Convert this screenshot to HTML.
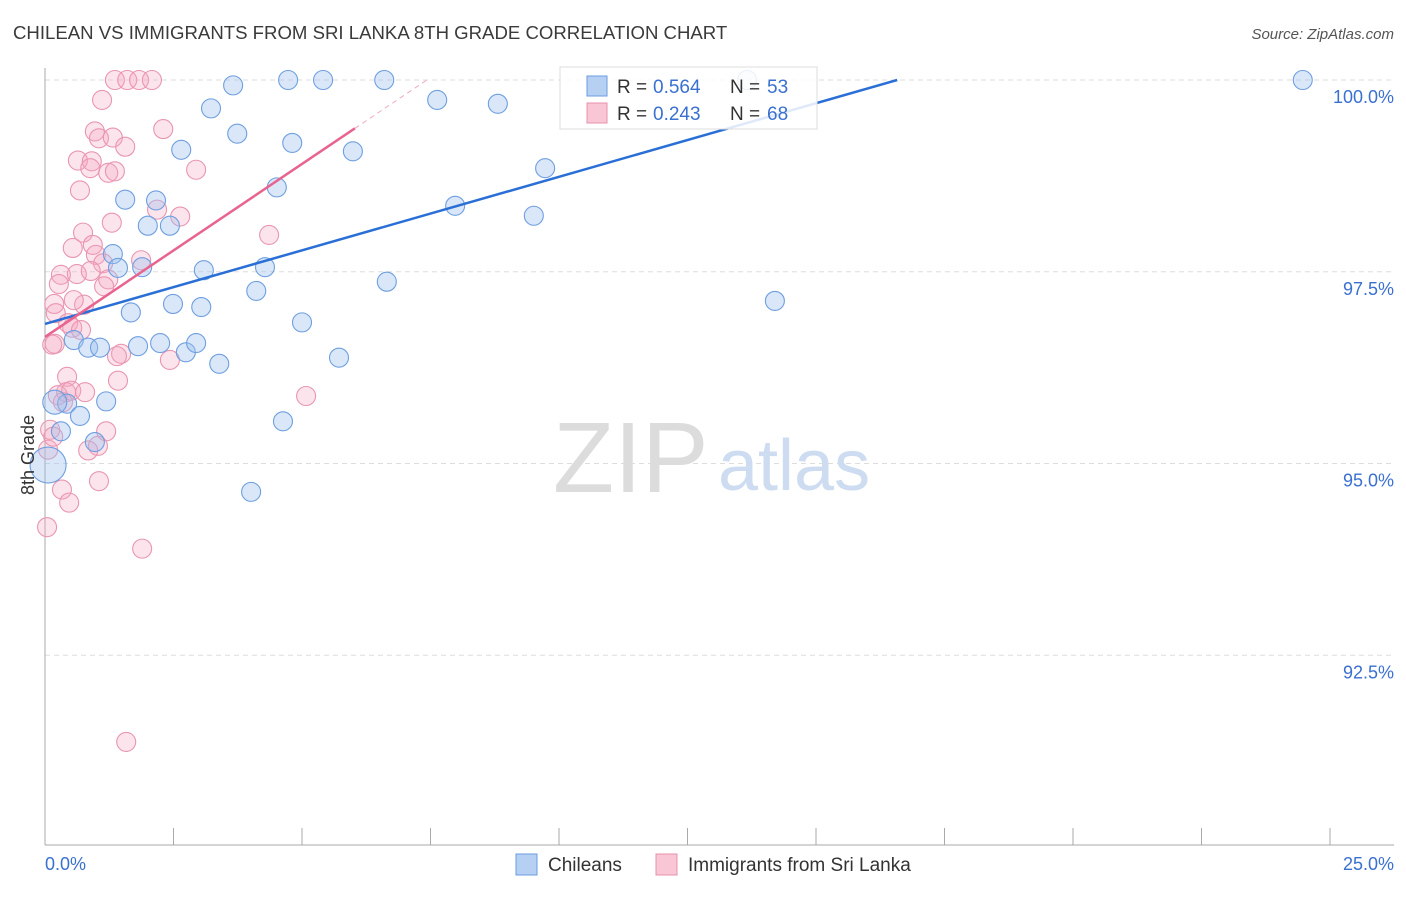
<!DOCTYPE html>
<html><head><meta charset="utf-8"><style>
body{margin:0;background:#fff;font-family:"Liberation Sans",sans-serif}
svg text{font-family:"Liberation Sans",sans-serif}
</style></head><body>
<svg width="1406" height="892" viewBox="0 0 1406 892">
<text x="13" y="39" font-size="18.6" fill="#3a3a3a">CHILEAN VS IMMIGRANTS FROM SRI LANKA 8TH GRADE CORRELATION CHART</text>
<text x="1394" y="39" font-size="15" fill="#555" font-style="italic" text-anchor="end">Source: ZipAtlas.com</text>
<g id="grid"></g>
<text x="553" y="492" font-size="100" fill="#dcdcdc" font-family="Liberation Serif">ZIP</text>
<text x="718" y="490" font-size="72" fill="#cddcf0">atlas</text>
<g id="marks"></g>
<text x="34" y="455" font-size="18" fill="#333" transform="rotate(-90 34 455)" text-anchor="middle">8th Grade</text>
<g>
<rect x="560" y="67" width="257" height="62" fill="rgba(255,255,255,0.85)" stroke="#ddd"/>
<rect x="587" y="76" width="20" height="20" fill="#b6d0f3" stroke="#6a9be0"/>
<text x="617" y="93" font-size="19" fill="#333">R = </text>
<text x="653" y="93" font-size="19" fill="#3a70d0">0.564</text>
<text x="730" y="93" font-size="19" fill="#333">N = </text>
<text x="767" y="93" font-size="19" fill="#3a70d0">53</text>
<rect x="587" y="103" width="20" height="20" fill="#f8c6d5" stroke="#e890aa"/>
<text x="617" y="120" font-size="19" fill="#333">R = </text>
<text x="653" y="120" font-size="19" fill="#3a70d0">0.243</text>
<text x="730" y="120" font-size="19" fill="#333">N = </text>
<text x="767" y="120" font-size="19" fill="#3a70d0">68</text>
</g>
<g>
<rect x="516" y="854" width="21" height="21" fill="#b6d0f3" stroke="#6a9be0"/>
<text x="548" y="871" font-size="19" fill="#333">Chileans</text>
<rect x="656" y="854" width="21" height="21" fill="#f8c6d5" stroke="#e890aa"/>
<text x="688" y="871" font-size="19" fill="#333">Immigrants from Sri Lanka</text>
</g>
</svg>
<script>
const xTicks=[0,2.5,5,7.5,10,12.5,15,17.5,20,22.5,25];
const yTicks=[92.5,95,97.5,100];
const yTickLabels=["92.5%","95.0%","97.5%","100.0%"];
const xEndLabels=["0.0%","25.0%"];
const blueX=[3.66,4.73,5.41,6.60,13.66,24.47,3.23,7.63,8.81,3.74,4.81,2.65,5.99,9.73,4.51,1.56,2.16,2.00,2.43,7.98,9.51,1.32,1.42,1.89,3.09,4.28,6.65,4.11,2.49,3.04,1.67,5.00,14.20,0.56,0.84,1.07,1.81,2.24,2.74,2.94,3.39,5.72,1.19,0.43,0.68,0.31,0.97,4.63,4.01,0.06,0.19];
const blueY=[99.93,100,100,100,100,100,99.63,99.74,99.69,99.30,99.18,99.09,99.07,98.85,98.60,98.44,98.43,98.10,98.10,98.36,98.23,97.73,97.55,97.56,97.52,97.56,97.37,97.25,97.08,97.04,96.97,96.84,97.12,96.61,96.51,96.51,96.53,96.57,96.45,96.57,96.30,96.38,95.81,95.78,95.62,95.42,95.28,95.55,94.63,94.98,95.80];
const blueR=[9.5,9.5,9.5,9.5,9.5,9.5,9.5,9.5,9.5,9.5,9.5,9.5,9.5,9.5,9.5,9.5,9.5,9.5,9.5,9.5,9.5,9.5,9.5,9.5,9.5,9.5,9.5,9.5,9.5,9.5,9.5,9.5,9.5,9.5,9.5,9.5,9.5,9.5,9.5,9.5,9.5,9.5,9.5,9.5,9.5,9.5,9.5,9.5,9.5,18,12];
const pinkX=[1.36,1.60,1.83,2.08,1.11,2.30,0.97,1.05,1.32,1.56,0.64,0.91,0.88,1.23,1.36,2.94,0.68,2.18,2.63,1.30,0.74,0.54,0.93,0.99,1.13,1.87,0.31,0.62,0.89,0.27,1.23,1.15,4.36,0.18,0.76,0.21,0.56,0.45,0.53,0.70,0.19,0.14,1.48,1.40,2.43,5.08,1.42,0.43,0.41,0.25,0.35,0.51,0.78,1.19,1.03,0.84,0.10,0.06,0.33,0.47,1.05,0.04,1.89,1.58,0.16];
const pinkY=[100,100,100,100,99.74,99.36,99.33,99.24,99.25,99.13,98.95,98.94,98.85,98.79,98.81,98.83,98.56,98.31,98.22,98.14,98.01,97.81,97.85,97.72,97.61,97.65,97.46,97.47,97.51,97.34,97.40,97.31,97.98,97.08,97.07,96.96,97.13,96.83,96.77,96.74,96.56,96.55,96.43,96.40,96.35,95.88,96.08,96.13,95.93,95.89,95.80,95.95,95.93,95.42,95.23,95.17,95.44,95.18,94.66,94.49,94.77,94.17,93.89,91.37,95.35];
const blueTrend=[[0,96.82],[16.58,100]];
const pinkTrend=[[0,96.65],[6.03,99.37]];
const pinkTrendDash=[[6.03,99.37],[7.43,100]];

const NS="http://www.w3.org/2000/svg";
const X0=45,X1=1330,Y100=80,PXPER=76.7;
const sx=v=>X0+(v/25)*(X1-X0);
const sy=v=>Y100+(100-v)*PXPER;
function mk(tag,attrs,parent){const e=document.createElementNS(NS,tag);for(const k in attrs)e.setAttribute(k,attrs[k]);parent.appendChild(e);return e;}
const grid=document.getElementById('grid'),marks=document.getElementById('marks');
yTicks.forEach((t,i)=>{
 const l=mk('line',{x1:45,x2:1394,y1:sy(t),y2:sy(t),stroke:'#ddd','stroke-dasharray':'5,4'},grid);
 
 
 const tx=mk('text',{x:1394,y:sy(t)+23,'font-size':18,fill:'#3a70d0','text-anchor':'end'},grid);
 tx.textContent=yTickLabels[i];
 
 
});
const ax=mk('line',{x1:45,x2:45,y1:68,y2:845,stroke:'#aaa'},grid);


const bx=mk('line',{x1:45,x2:1394,y1:845,y2:845,stroke:'#aaa'},grid);


xTicks.forEach(t=>{
 const l=mk('line',{x1:sx(t),x2:sx(t),y1:828,y2:845,stroke:'#aaa'},grid);
 
 
});
const xl0=mk('text',{x:45,y:870,'font-size':18,fill:'#3a70d0'},grid);xl0.textContent=xEndLabels[0];


const xl1=mk('text',{x:1394,y:870,'font-size':18,fill:'#3a70d0','text-anchor':'end'},grid);xl1.textContent=xEndLabels[1];


pinkX.forEach((v,i)=>{
 const c=mk('circle',{cx:sx(v),cy:sy(pinkY[i]),r:9.5,fill:'rgba(244,165,192,0.3)',stroke:'#e996b0','stroke-width':1.1},marks);
 
 
});
blueX.forEach((v,i)=>{
 const c=mk('circle',{cx:sx(v),cy:sy(blueY[i]),r:blueR[i],fill:'rgba(155,192,240,0.38)',stroke:'#6f9fe0','stroke-width':1.1},marks);
 
 
});
const bl=mk('line',{x1:sx(blueTrend[0][0]),y1:sy(blueTrend[0][1]),x2:sx(blueTrend[1][0]),y2:sy(blueTrend[1][1]),stroke:'#2a6fd6','stroke-width':2.5},marks);


const pl=mk('line',{x1:sx(pinkTrend[0][0]),y1:sy(pinkTrend[0][1]),x2:sx(pinkTrend[1][0]),y2:sy(pinkTrend[1][1]),stroke:'#e8648e','stroke-width':2.5},marks);


const pd=mk('line',{x1:sx(pinkTrendDash[0][0]),y1:sy(pinkTrendDash[0][1]),x2:sx(pinkTrendDash[1][0]),y2:sy(pinkTrendDash[1][1]),stroke:'#f0a8be','stroke-width':1,'stroke-dasharray':'5,4'},marks);


</script>
</body></html>
